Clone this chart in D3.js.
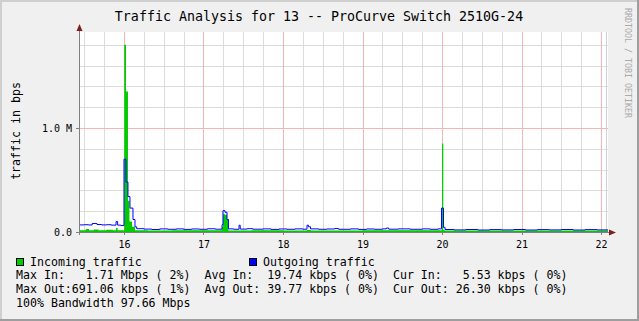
<!DOCTYPE html>
<html>
<head>
<meta charset="utf-8">
<script src="https://cdn.jsdelivr.net/npm/d3@7"></script>
<style>
body { margin: 0; background: #fff; }
text { font-family: "DejaVu Sans Mono", monospace; white-space: pre; }
</style>
</head>
<body>
<div id="chart"></div>
<script>
// x ticks (day of month) and y ticks (M bps)
const days = [16, 17, 18, 19, 20, 21, 22];
const yTickVals = [0, 1.0];
const yTickLabels = ["0.0", "1.0 M"];

// incoming traffic, step start times (day) and values (M bps)
const inTimes = [15.434, 15.52, 15.56, 15.62, 15.68, 15.78, 15.86, 15.90, 15.92, 16.003, 16.025, 16.050, 16.069, 16.101, 16.138,
  16.30, 16.60, 17.233, 17.245, 17.270, 17.296, 17.314, 17.60, 18.00, 18.302, 18.35, 19.00, 20.000, 20.016, 20.030, 21.00];
const inVals = [0.018, 0.028, 0.018, 0.025, 0.017, 0.021, 0.017, 0.038, 0.018, 1.80, 1.35, 0.30, 0.10, 0.05, 0.016,
  0.015, 0.017, 0.05, 0.17, 0.165, 0.12, 0.015, 0.017, 0.015, 0.019, 0.015, 0.016, 0.85, 0.02, 0.015, 0.014];

// outgoing traffic
const outTimes = [15.434, 15.50, 15.55, 15.60, 15.66, 15.72, 15.78, 15.84, 15.90, 15.92, 15.96,
  16.000, 16.025, 16.050, 16.075, 16.113, 16.138, 16.160, 16.25, 16.35, 16.45, 16.55, 16.66, 16.75, 16.85, 16.95, 17.05, 17.15,
  17.233, 17.245, 17.270, 17.296, 17.314, 17.38, 17.447, 17.462, 17.55, 17.62, 17.75, 17.85, 17.95, 18.05, 18.15, 18.25,
  18.302, 18.320, 18.346, 18.45, 18.55, 18.65, 18.70, 18.85, 18.95, 19.05, 19.15, 19.25, 19.30, 19.33, 19.45, 19.60, 19.75, 19.85, 19.95,
  19.994, 20.019, 20.038, 20.15, 20.30, 20.45, 20.60, 20.75, 20.90, 21.05, 21.20, 21.35, 21.50, 21.65, 21.80, 21.95];
const outVals = [0.068, 0.070, 0.068, 0.082, 0.072, 0.068, 0.070, 0.066, 0.100, 0.066, 0.062,
  0.700, 0.480, 0.340, 0.230, 0.120, 0.050, 0.032, 0.028, 0.024, 0.030, 0.026, 0.030, 0.025, 0.029, 0.026, 0.031, 0.027,
  0.070, 0.205, 0.190, 0.120, 0.030, 0.026, 0.065, 0.028, 0.032, 0.027, 0.030, 0.025, 0.029, 0.026, 0.030, 0.027,
  0.065, 0.050, 0.030, 0.026, 0.029, 0.033, 0.026, 0.030, 0.025, 0.029, 0.026, 0.030, 0.038, 0.027, 0.030, 0.026, 0.030, 0.026, 0.030,
  0.230, 0.045, 0.024, 0.020, 0.024, 0.019, 0.023, 0.020, 0.024, 0.019, 0.023, 0.020, 0.024, 0.019, 0.023, 0.020];

const legendRows = [
  "Max In:   1.71 Mbps ( 2%)  Avg In:  19.74 kbps ( 0%)  Cur In:   5.53 kbps ( 0%)",
  "Max Out:691.06 kbps ( 1%)  Avg Out: 39.77 kbps ( 0%)  Cur Out: 26.30 kbps ( 0%)",
  "100% Bandwidth 97.66 Mbps"
];

document.addEventListener('DOMContentLoaded', function() {
    const W = 639, H = 321;
    const left = 79, right = 608, top = 32, bottom = 232;
    const t0 = 15.434, t1 = 22.088;

    const x = d3.scaleLinear().domain([t0, t1]).range([left, right]);
    const y = d3.scaleLinear().domain([0, 1.923]).range([bottom, top]);

    const svg = d3.select('#chart').append('svg')
        .attr('width', W)
        .attr('height', H);

    // background + 3d border
    svg.append('rect').attr('width', W).attr('height', H).attr('fill', '#f0f0f0');
    svg.append('rect').attr('x', 0).attr('y', 0).attr('width', W).attr('height', 2).attr('fill', '#cfcfcf');
    svg.append('rect').attr('x', 0).attr('y', 0).attr('width', 2).attr('height', H).attr('fill', '#cfcfcf');
    svg.append('rect').attr('x', 0).attr('y', H - 2).attr('width', W).attr('height', 2).attr('fill', '#9e9e9e');
    svg.append('rect').attr('x', W - 2).attr('y', 0).attr('width', 2).attr('height', H).attr('fill', '#9e9e9e');

    // canvas
    svg.append('rect').attr('x', left).attr('y', top).attr('width', right - left).attr('height', bottom - top).attr('fill', '#fff');

    const grid = svg.append('g');
    // minor grid, every 6 hours / 0.2 M
    const minorX = d3.range(15.5, 22.01, 0.25).filter(d => Math.abs(d - Math.round(d)) > 0.01);
    grid.selectAll('.mx').data(minorX).enter().append('line')
        .attr('x1', d => Math.round(x(d)) + 0.5).attr('x2', d => Math.round(x(d)) + 0.5)
        .attr('y1', top).attr('y2', bottom)
        .attr('stroke', '#dcdcdc');
    const minorY = d3.range(0.2, 1.85, 0.2).filter(d => Math.abs(d - 1) > 0.01);
    grid.selectAll('.my').data(minorY).enter().append('line')
        .attr('x1', left).attr('x2', right)
        .attr('y1', d => Math.round(y(d)) + 0.5).attr('y2', d => Math.round(y(d)) + 0.5)
        .attr('stroke', '#dcdcdc');
    grid.append('line')
        .attr('x1', right - 1.5).attr('x2', right - 1.5).attr('y1', top).attr('y2', bottom)
        .attr('stroke', '#d0d0d0');
    // major grid
    grid.selectAll('.Mx').data(days).enter().append('line')
        .attr('x1', d => Math.round(x(d)) + 0.5).attr('x2', d => Math.round(x(d)) + 0.5)
        .attr('y1', top).attr('y2', bottom)
        .attr('stroke', '#f5b5b5');
    grid.selectAll('.My').data(yTickVals.filter(d => d > 0)).enter().append('line')
        .attr('x1', left).attr('x2', right)
        .attr('y1', d => Math.round(y(d)) + 0.5).attr('y2', d => Math.round(y(d)) + 0.5)
        .attr('stroke', '#f5b5b5');

    // data
    const inData = inTimes.map((t, i) => ({ t, v: inVals[i] }));
    inData.push({ t: t1, v: inVals[inVals.length - 1] });
    const outData = outTimes.map((t, i) => ({ t, v: outVals[i] }));
    outData.push({ t: t1, v: outVals[outVals.length - 1] });

    svg.append('clipPath').attr('id', 'clip').append('rect')
        .attr('x', left).attr('y', top - 5).attr('width', right - left).attr('height', bottom - top + 5);
    const plot = svg.append('g').attr('clip-path', 'url(#clip)');

    plot.append('path')
        .datum(inData)
        .attr('fill', '#00cc00')
        .attr('d', d3.area().curve(d3.curveStepAfter).x(d => x(d.t)).y0(y(0)).y1(d => y(d.v)));
    plot.append('path')
        .datum(outData)
        .attr('fill', 'none')
        .attr('stroke', '#0000ff')
        .attr('stroke-width', 1)
        .attr('d', d3.line().curve(d3.curveStepAfter).x(d => x(d.t)).y(d => y(d.v)));

    // axes
    const axisCol = '#808080';
    svg.append('line').attr('x1', left - 3).attr('x2', right + 2).attr('y1', bottom + 0.5).attr('y2', bottom + 0.5).attr('stroke', axisCol);
    svg.append('line').attr('x1', left + 0.5).attr('x2', left + 0.5).attr('y1', bottom + 3).attr('y2', top - 2).attr('stroke', axisCol);
    svg.selectAll('.xt').data(days).enter().append('line')
        .attr('x1', d => Math.round(x(d)) + 0.5).attr('x2', d => Math.round(x(d)) + 0.5)
        .attr('y1', bottom).attr('y2', bottom + 3).attr('stroke', axisCol);
    svg.selectAll('.yt').data(yTickVals).enter().append('line')
        .attr('x1', left - 3).attr('x2', left)
        .attr('y1', d => Math.round(y(d)) + 0.5).attr('y2', d => Math.round(y(d)) + 0.5).attr('stroke', axisCol);
    svg.append('path').attr('d', `M${right + 1},${bottom - 2.5}L${right + 8},${bottom + 0.5}L${right + 1},${bottom + 3.5}Z`).attr('fill', '#7f1f1f');
    svg.append('path').attr('d', `M${left - 2.5},${top - 1}L${left + 0.5},${top - 8}L${left + 3.5},${top - 1}Z`).attr('fill', '#7f1f1f');

    // tick labels
    svg.selectAll('.xl').data(days).enter().append('text')
        .attr('x', d => x(d) + 0.5).attr('y', 247.5)
        .attr('text-anchor', 'middle').attr('font-size', '10px')
        .text(d => d);
    svg.selectAll('.yl').data(yTickVals).enter().append('text')
        .attr('x', 72).attr('y', d => y(d) + 3.8)
        .attr('text-anchor', 'end').attr('font-size', '10px')
        .text((d, i) => yTickLabels[i]);

    // title, unit, watermark
    svg.append('text').attr('x', 319).attr('y', 21).attr('text-anchor', 'middle')
        .attr('font-size', '13.3px').text('Traffic Analysis for 13 -- ProCurve Switch 2510G-24');
    svg.append('text').attr('transform', 'translate(19.5,131) rotate(-90)').attr('text-anchor', 'middle')
        .attr('font-size', '11.6px').text('traffic in bps');
    svg.append('text').attr('transform', 'translate(625,63) rotate(90)').attr('text-anchor', 'middle')
        .attr('font-size', '8.3px').attr('fill', '#aaaaaa').text('RRDTOOL / TOBI OETIKER');

    // legend
    const legend = svg.append('g').attr('font-size', '11.6px');
    legend.append('rect').attr('x', 16.5).attr('y', 258.5).attr('width', 7).attr('height', 7)
        .attr('fill', '#00cc00').attr('stroke', '#000');
    legend.append('text').attr('x', 30).attr('y', 265.5).text('Incoming traffic');
    legend.append('rect').attr('x', 249.5).attr('y', 258.5).attr('width', 7).attr('height', 7)
        .attr('fill', '#0000ff').attr('stroke', '#000');
    legend.append('text').attr('x', 263).attr('y', 265.5).text('Outgoing traffic');
    legend.selectAll('.row').data(legendRows).enter().append('text')
        .attr('x', 16).attr('y', (d, i) => 279.3 + i * 13.9)
        .text(d => d);
});
</script>
</body>
</html>
